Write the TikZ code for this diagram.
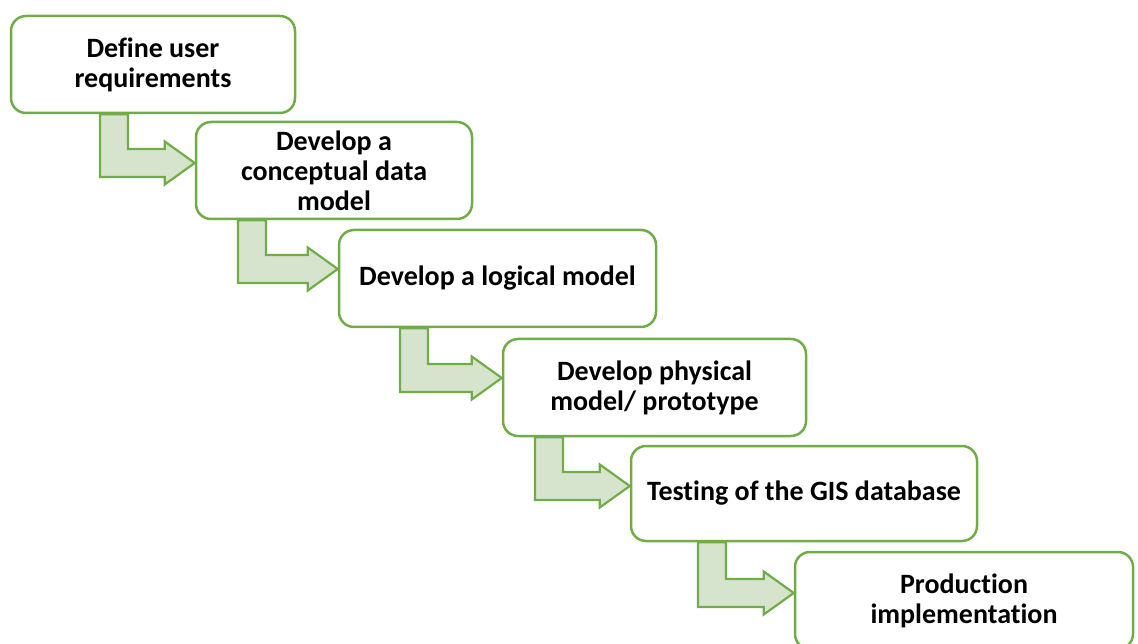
\documentclass[tikz,border=0pt]{standalone}
\usepackage{fontspec}
\setmainfont{Carlito}[Ligatures=NoCommon]
\usetikzlibrary{calc}
\definecolor{stepgreen}{HTML}{70AD47}
\definecolor{stepfill}{HTML}{D6E4CD}
\tikzset{
  stepbox/.style={draw=stepgreen, line width=2.5pt, fill=white, rounded corners=15pt,
    align=center, font=\fontsize{28}{30}\selectfont\bfseries, inner sep=0pt},
  steparrow/.style={draw=stepgreen, line width=2.2pt, fill=stepfill, line join=miter},
}
% bent connector: source node, target node, stem left x, bar top y
\newcommand\stepconnector[4]{%
  \coordinate (tip) at (#2.west |- 0,#4+14);
  \draw[steparrow] (#3,0 |- #1.south) -- (#3,#4+28)
    -- ($(tip)+(-30,14)$) -- ($(tip)+(-30,21.5)$) -- (tip)
    -- ($(tip)+(-30,-21.5)$) -- ($(tip)+(-30,-14)$)
    -- (#3+28,#4) -- (#3+28,0 |- #1.south) -- cycle;
}
\begin{document}
\begin{tikzpicture}[x=1pt,y=-1pt]
\useasboundingbox (0,0) rectangle (1138,644);
\clip (0,0) rectangle (1138,644);
\node[stepbox, minimum width=284pt, minimum height=97pt] (b1) at (153,64.5) {Define user\\requirements};
\node[stepbox, minimum width=276pt, minimum height=97pt] (b2) at (334,170.5) {Develop a\\conceptual data\\model};
\node[stepbox, minimum width=317pt, minimum height=97pt] (b3) at (497.5,278.5) {Develop a logical model};
\node[stepbox, minimum width=303pt, minimum height=97pt] (b4) at (654.5,387.5) {Develop physical\\model/ prototype};
\node[stepbox, minimum width=346pt, minimum height=95pt] (b5) at (804,493.5) {Testing of the GIS database};
\node[stepbox, minimum width=338pt, minimum height=97pt] (b6) at (964,600.5) {Production\\implementation};
\stepconnector{b1}{b2}{100}{149}
\stepconnector{b2}{b3}{238}{255}
\stepconnector{b3}{b4}{400}{364}
\stepconnector{b4}{b5}{535}{472}
\stepconnector{b5}{b6}{698}{579}
\end{tikzpicture}
\end{document}
